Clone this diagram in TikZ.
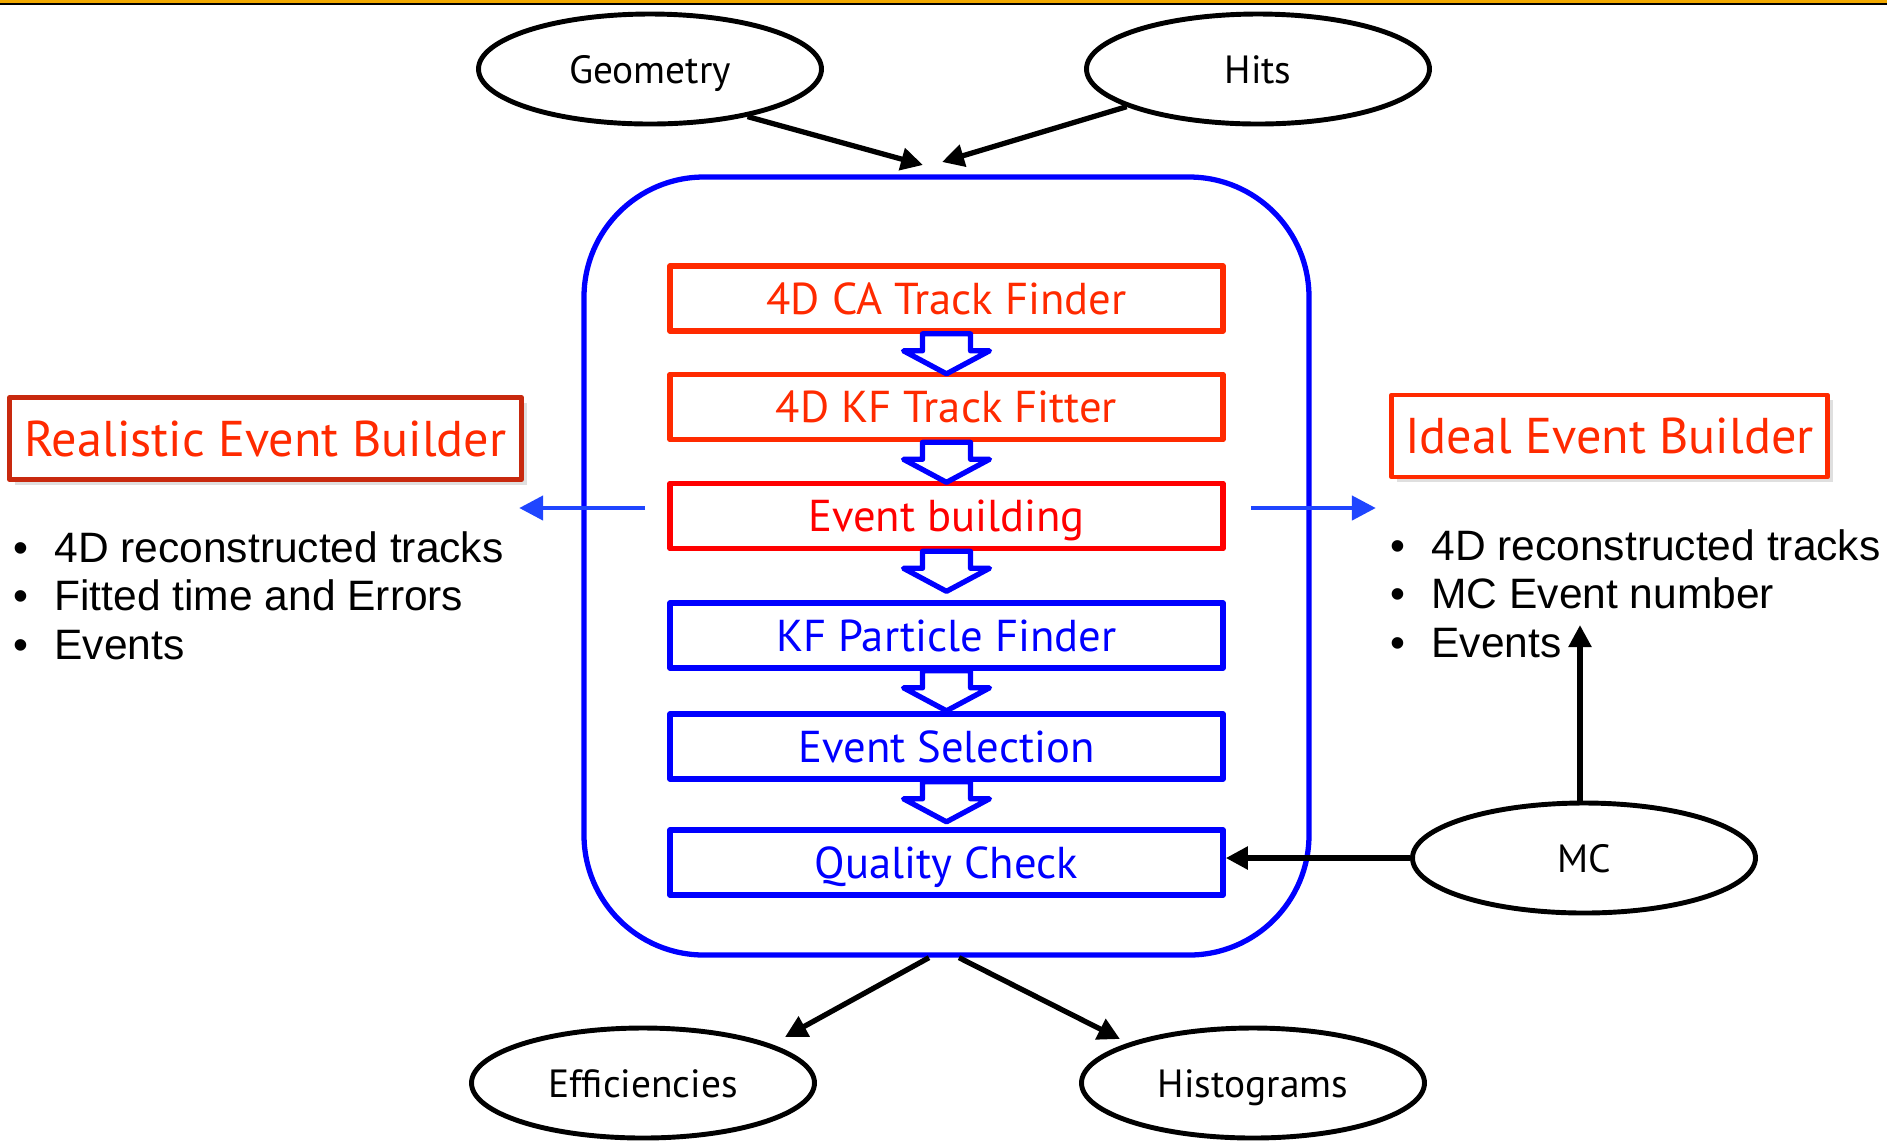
\documentclass[tikz,border=0pt]{standalone}
\usepackage{fontspec}
\setmainfont{PT Sans}
\newfontfamily\listfont{Liberation Sans}
\usetikzlibrary{arrows.meta,calc,shapes.geometric,shadows}
\definecolor{BarGold}{HTML}{F2A900}
\definecolor{StepRed}{HTML}{FF2A00}
\definecolor{BuildRed}{HTML}{FF0000}
\definecolor{DarkRed}{HTML}{C8290E}
\definecolor{FrameBlue}{HTML}{0000FF}
\definecolor{ArrowBlue}{HTML}{1F45FF}
\tikzset{
  oval/.style={ellipse,draw,line width=1.4pt,minimum width=3.43cm,minimum height=1.10cm,inner sep=0pt,text height=0.28cm,text depth=0pt,font=\fontsize{11.2}{13}\selectfont},
  stepbox/.style={draw,line width=1.6pt,minimum width=5.53cm,minimum height=0.65cm,inner sep=0pt,text height=0.31cm,text depth=0pt,font=\fontsize{12.7}{14}\selectfont},
  builder/.style={draw,line width=1.3pt,minimum height=0.82cm,inner sep=0pt,text height=0.35cm,text depth=0pt,text=StepRed,fill=white,font=\fontsize{14.3}{16}\selectfont,drop shadow={opacity=0.25,shadow xshift=0.05cm,shadow yshift=-0.05cm}},
  arr/.style={-{Triangle[length=0.22cm,width=0.22cm]},line width=1.5pt},
  bluearr/.style={-{Triangle[length=0.24cm,width=0.24cm]},line width=1.3pt,ArrowBlue},
  hollow/.style={draw=FrameBlue,fill=white,line width=1.5pt,line join=round},
  bullets/.style={anchor=base west,inner sep=0pt,align=left,font=\listfont\fontsize{12.1}{13.7}\selectfont}
}
\newcommand{\bul}{\textbullet\hspace{0.62em}}

\begin{document}
\begin{tikzpicture}[line join=round]
  \useasboundingbox (0,0) rectangle (18.87,-11.42);
  \fill[BarGold] (0,0) rectangle (18.87,-0.03);
  \fill[black] (0,-0.03) rectangle (18.87,-0.05);
  % inputs and outputs
  \node[oval] (geom) at (6.50,-0.69) {Geometry};
  \node[oval] (hits) at (12.58,-0.69) {Hits};
  \node[oval] (mc) at (15.84,-8.58) {MC};
  \node[oval] (eff) at (6.43,-10.83) {Efficiencies};
  \node[oval] (hist) at (12.53,-10.83) {Histograms};
  % reconstruction chain
  \node[draw=FrameBlue,line width=1.5pt,rounded corners=1.2cm,minimum width=7.25cm,minimum height=7.78cm] (frame) at (9.465,-5.66) {};
  \node[stepbox,draw=StepRed,text=StepRed] (ca) at (9.465,-2.985) {4D CA Track Finder};
  \node[stepbox,draw=StepRed,text=StepRed] (fit) at (9.465,-4.07) {4D KF Track Fitter};
  \node[stepbox,draw=BuildRed,text=BuildRed] (evb) at (9.465,-5.16) {Event building};
  \node[stepbox,draw=FrameBlue,text=FrameBlue] (kfp) at (9.465,-6.355) {KF Particle Finder};
  \node[stepbox,draw=FrameBlue,text=FrameBlue] (sel) at (9.465,-7.465) {Event Selection};
  \node[stepbox,draw=FrameBlue,text=FrameBlue] (qc) at (9.465,-8.625) {Quality Check};
  \foreach \s in {ca,fit,evb,kfp,sel}
    \draw[hollow] ($(\s.south)+(-0.24,0)$) -- ++(0,-0.17) -- ++(-0.19,0) -- ($(\s.south)+(0,-0.40)$) -- ++(0.43,0.23) -- ++(-0.19,0) -- ++(0,0.17) -- cycle;
  % event builders
  \node[builder,draw=DarkRed,minimum width=5.12cm] (real) at (2.655,-4.385) {Realistic Event Builder};
  \node[builder,draw=StepRed,minimum width=4.36cm] (ideal) at (16.095,-4.36) {Ideal Event Builder};
  \draw[bluearr] ([xshift=-0.22cm,yshift=0.08cm]evb.west) -- ++(-1.26,0);
  \draw[bluearr] ([xshift=0.25cm,yshift=0.08cm]evb.east) -- ++(1.25,0);
  \node[bullets] (reallist) at (0.125,-6.59) {\bul 4D reconstructed tracks\\\bul Fitted time and Errors\\\bul Events};
  \node[bullets] (ideallist) at (13.895,-6.57) {\bul 4D reconstructed tracks\\\bul MC Event number\\\bul Events};
  % connectors
  \coordinate (topin1) at (9.23,-1.65);
  \coordinate (topin2) at (9.42,-1.62);
  \coordinate (outl) at (7.85,-10.37);
  \coordinate (outr) at (11.20,-10.39);
  \coordinate (mcup) at (15.80,-6.25);
  \draw[arr] (geom.-26) -- (topin1);
  \draw[arr] (hits.196) -- (topin2);
  \draw[arr] ($(frame.south)+(-0.175,0)$) -- (outl);
  \draw[arr] ($(frame.south)+(0.125,0)$) -- (outr);
  \draw[arr] (mc.west) -- (mc.west -| qc.east);
  \draw[arr] (mc.north -| mcup) -- (mcup);
\end{tikzpicture}
\end{document}
